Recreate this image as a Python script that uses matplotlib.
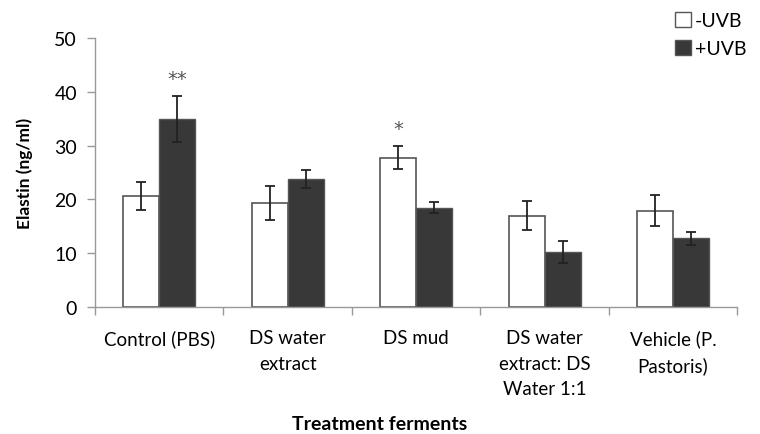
import numpy as np
import matplotlib.pyplot as plt
from matplotlib.patches import Patch

plt.rcParams['font.family'] = ['Lato', 'DejaVu Sans']

# Data
categories = ['Control (PBS)', 'DS water\nextract', 'DS mud',
              'DS water\nextract: DS\nWater 1:1', 'Vehicle (P.\nPastoris)']
minus_uvb = [20.6, 19.3, 27.8, 17.0, 17.9]
minus_err = [2.6, 3.2, 2.1, 2.7, 2.9]
plus_uvb = [34.9, 23.8, 18.5, 10.2, 12.8]
plus_err = [4.3, 1.7, 1.1, 2.0, 1.2]
stars_minus = ['', '', '*', '', '']
stars_plus = ['**', '', '', '', '']

fig = plt.figure(figsize=(7.6, 4.35), dpi=100)
ax = fig.add_axes([0.125, 0.292, 0.845, 0.618])

x = np.arange(len(categories))
w = 0.28
ekw = dict(ecolor='#222222', elinewidth=1.3, capsize=3.5, capthick=1.3)

ax.bar(x - w / 2, minus_uvb, w, yerr=minus_err, color='white',
       edgecolor='#555555', linewidth=1.2, error_kw=ekw)
ax.bar(x + w / 2, plus_uvb, w, yerr=plus_err, color='#383838',
       edgecolor='#555555', linewidth=1.0, error_kw=ekw)

# significance marks
for i in range(len(categories)):
    if stars_minus[i]:
        ax.text(x[i] - w / 2, minus_uvb[i] + minus_err[i] + 1.6, stars_minus[i],
                ha='center', va='bottom', fontsize=14, color='#555555',
                family='DejaVu Sans')
    if stars_plus[i]:
        ax.text(x[i] + w / 2, plus_uvb[i] + plus_err[i] + 1.6, stars_plus[i],
                ha='center', va='bottom', fontsize=14, color='#555555',
                family='DejaVu Sans')

ax.set_xlim(-0.5, len(categories) - 0.5)
ax.set_ylim(0, 50)
ax.set_yticks(range(0, 51, 10))

# boundaries as major ticks, labels on minor ticks
ax.set_xticks(np.arange(-0.5, len(categories), 1.0))
ax.set_xticklabels([])
ax.set_xticks(x, minor=True)
ax.set_xticklabels(categories, minor=True, fontsize=13.5, linespacing=1.6)
ax.tick_params(axis='x', which='major', length=6, color='#999999', width=1)
ax.tick_params(axis='x', which='minor', length=0, pad=16)
ax.tick_params(axis='y', length=6, color='#999999', width=1, labelsize=14, pad=7)

for s in ['top', 'right']:
    ax.spines[s].set_visible(False)
for s in ['left', 'bottom']:
    ax.spines[s].set_color('#999999')
    ax.spines[s].set_linewidth(1.0)

ax.set_ylabel('Elastin (ng/ml)', fontsize=12.5, fontweight='bold', labelpad=15)
fig.text(0.5, 0.025, 'Treatment ferments', ha='center', va='center',
         fontsize=14, fontweight='bold')

handles = [Patch(facecolor='white', edgecolor='#555555', label='-UVB'),
           Patch(facecolor='#383838', edgecolor='#555555', label='+UVB')]
fig.legend(handles=handles, loc='upper right', bbox_to_anchor=(1.005, 1.01),
           frameon=False, fontsize=14, handlelength=0.8, handleheight=0.8,
           handletextpad=0.2, labelspacing=0.55)

fig.savefig('out.png', dpi=100)
